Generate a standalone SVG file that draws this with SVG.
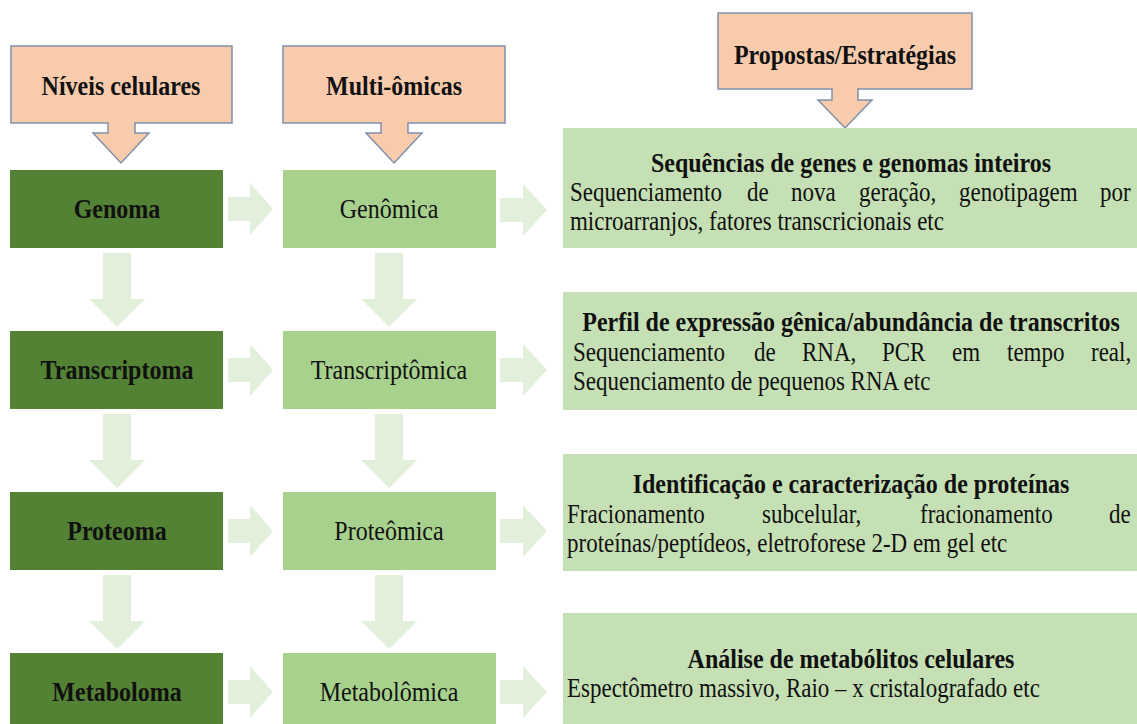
<svg xmlns="http://www.w3.org/2000/svg" width="1137" height="724" viewBox="0 0 1137 724">
<defs>
<style>
.hdr{fill:#F8CBAD;stroke:#8091AB;stroke-width:1.5}
.dark{fill:#548235}
.mid{fill:#A9D18E}
.right{fill:#C5E0B4}
.arr{fill:#E2EFDA}
text{font-family:"Liberation Serif","Times New Roman",serif;fill:#111}
.b{font-weight:bold;font-size:24px}
.r{font-size:24px}
.s{font-size:23px}
.c{text-anchor:middle}
</style>
</defs>
<rect width="1137" height="724" fill="#fff"/>
<g id="connectors">
<path class="arr" d="M103,253 H131 V299 H145 L117,327 L89,299 H103 Z"/>
<path class="arr" d="M103,414 H131 V460 H145 L117,488 L89,460 H103 Z"/>
<path class="arr" d="M103,575 H131 V621 H145 L117,649 L89,621 H103 Z"/>
<path class="arr" d="M375,253 H403 V299 H417 L389,327 L361,299 H375 Z"/>
<path class="arr" d="M375,414 H403 V460 H417 L389,488 L361,460 H375 Z"/>
<path class="arr" d="M375,575 H403 V621 H417 L389,649 L361,621 H375 Z"/>
<path class="arr" d="M228,197 H250 V183 L273,209 L250,235 V221 H228 Z"/>
<path class="arr" d="M228,358 H250 V344 L273,370 L250,396 V382 H228 Z"/>
<path class="arr" d="M228,519 H250 V505 L273,531 L250,557 V543 H228 Z"/>
<path class="arr" d="M228,680 H250 V666 L273,692 L250,718 V704 H228 Z"/>
<path class="arr" d="M500,198 H523 V184 L547,210 L523,236 V222 H500 Z"/>
<path class="arr" d="M500,358 H523 V344 L547,370 L523,396 V382 H500 Z"/>
<path class="arr" d="M500,519 H523 V505 L547,531 L523,557 V543 H500 Z"/>
<path class="arr" d="M500,680 H523 V666 L547,692 L523,718 V704 H500 Z"/>
</g>
<g id="hdr-niveis">
<path class="hdr" d="M11,46 H232 V123 H135 V133 H149 L121,163 L93,133 H108 V123 H11 Z"/>
<text class="b c" transform="scale(1 1.15)" x="121" y="82.6">Níveis celulares</text>
</g>
<g id="hdr-multi">
<path class="hdr" d="M283,46 H505 V123 H408 V133 H422 L394,163 L366,133 H381 V123 H283 Z"/>
<text class="b c" transform="scale(1 1.15)" x="394" y="82.6">Multi-ômicas</text>
</g>
<g id="hdr-propostas">
<path class="hdr" d="M718,13 H972 V89 H858 V100 H872 L845,128 L818,100 H832 V89 H718 Z"/>
<text class="b c" transform="scale(1 1.15)" x="845" y="55.6">Propostas/Estratégias</text>
</g>
<g id="genoma"><rect class="dark" x="10" y="170" width="213" height="78"/><text class="b c" transform="scale(1 1.15)" x="117" y="189.6">Genoma</text></g>
<g id="transcriptoma"><rect class="dark" x="10" y="331" width="213" height="78"/><text class="b c" transform="scale(1 1.15)" x="117" y="329.6">Transcriptoma</text></g>
<g id="proteoma"><rect class="dark" x="10" y="492" width="213" height="78"/><text class="b c" transform="scale(1 1.15)" x="117" y="469.6">Proteoma</text></g>
<g id="metaboloma"><rect class="dark" x="10" y="653" width="213" height="78"/><text class="b c" transform="scale(1 1.15)" x="117" y="609.6">Metaboloma</text></g>
<g id="genomica"><rect class="mid" x="283" y="170" width="213" height="78"/><text class="r c" transform="scale(1 1.15)" x="389" y="189.6">Genômica</text></g>
<g id="transcriptomica"><rect class="mid" x="283" y="331" width="213" height="78"/><text class="r c" transform="scale(1 1.15)" x="389" y="329.6">Transcriptômica</text></g>
<g id="proteomica"><rect class="mid" x="283" y="492" width="213" height="78"/><text class="r c" transform="scale(1 1.15)" x="389" y="469.6">Proteômica</text></g>
<g id="metabolomica"><rect class="mid" x="283" y="653" width="213" height="78"/><text class="r c" transform="scale(1 1.15)" x="389" y="609.6">Metabolômica</text></g>
<g id="estrategia-genomas">
<rect class="right" x="563" y="128" width="580" height="120"/>
<text class="b c" transform="scale(1 1.15)" x="851" y="149.6">Sequências de genes e genomas inteiros</text>
<text class="s" transform="scale(1 1.15)" y="174.8"><tspan x="570">Sequenciamento</tspan><tspan x="747">de</tspan><tspan x="791">nova</tspan><tspan x="859">geração,</tspan><tspan x="959">genotipagem</tspan><tspan x="1100">por</tspan></text>
<text class="s" transform="scale(1 1.15)" x="570" y="200">microarranjos, fatores transcricionais etc</text>
</g>
<g id="estrategia-transcritos">
<rect class="right" x="563" y="292" width="580" height="118"/>
<text class="b c" transform="scale(1 1.15)" x="851" y="287.8">Perfil de expressão gênica/abundância de transcritos</text>
<text class="s" transform="scale(1 1.15)" y="313.9"><tspan x="573">Sequenciamento</tspan><tspan x="754">de</tspan><tspan x="802">RNA,</tspan><tspan x="882">PCR</tspan><tspan x="952">em</tspan><tspan x="1007">tempo</tspan><tspan x="1091">real,</tspan></text>
<text class="s" transform="scale(1 1.15)" x="573" y="339.1">Sequenciamento de pequenos RNA etc</text>
</g>
<g id="estrategia-proteinas">
<rect class="right" x="563" y="454" width="580" height="117"/>
<text class="b c" transform="scale(1 1.15)" x="851" y="428.7">Identificação e caracterização de proteínas</text>
<text class="s" transform="scale(1 1.15)" y="454.8"><tspan x="567">Fracionamento</tspan><tspan x="762">subcelular,</tspan><tspan x="920">fracionamento</tspan><tspan x="1109">de</tspan></text>
<text class="s" transform="scale(1 1.15)" x="567" y="480">proteínas/peptídeos, eletroforese 2-D em gel etc</text>
</g>
<g id="estrategia-metabolitos">
<rect class="right" x="563" y="613" width="580" height="117"/>
<text class="b c" transform="scale(1 1.15)" x="851" y="580.9">Análise de metabólitos celulares</text>
<text class="s" transform="scale(1 1.15)" x="567" y="606.1">Espectômetro massivo, Raio – x cristalografado etc</text>
</g>
</svg>
